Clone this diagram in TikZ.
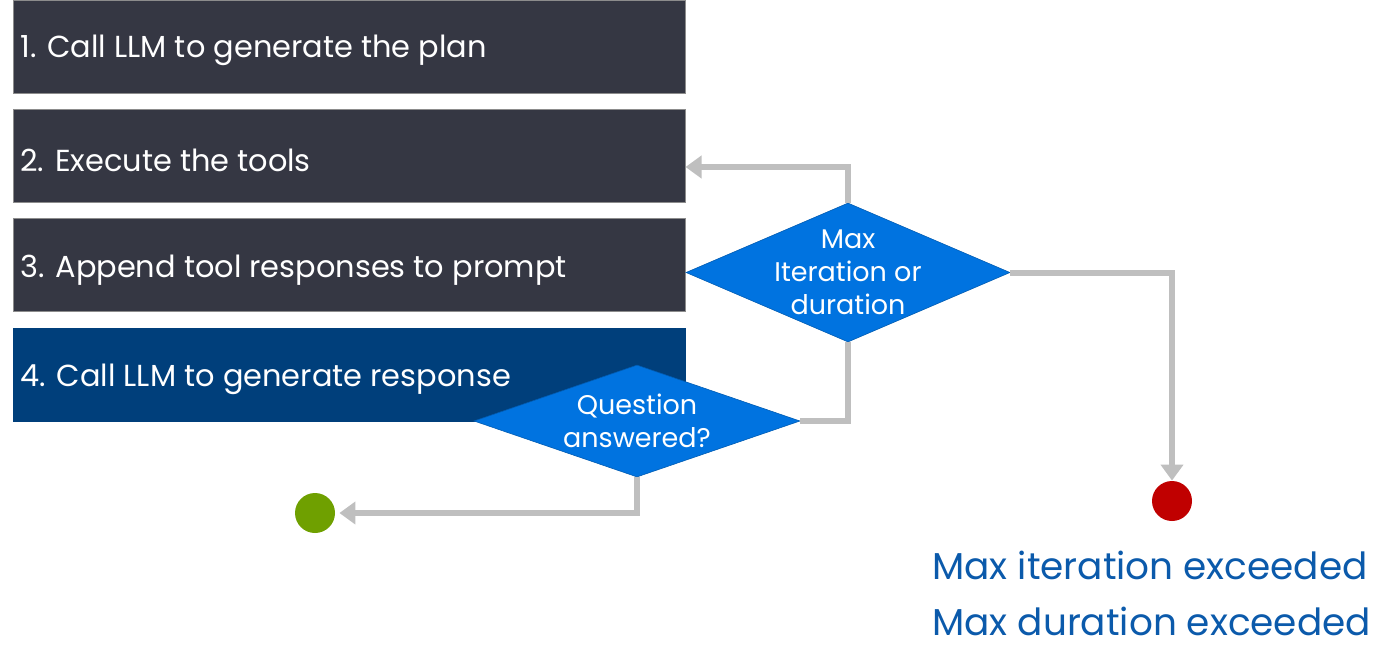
\documentclass[tikz,border=0pt]{standalone}
\usepackage{fontspec}
\setmainfont{Poppins}
\usetikzlibrary{shapes.geometric, arrows.meta}

\definecolor{stepgray}{HTML}{353743}
\definecolor{stepblue}{HTML}{003F7B}
\definecolor{checkblue}{HTML}{0073E0}
\definecolor{flowgray}{HTML}{BFBFBF}
\definecolor{stopred}{HTML}{C00000}
\definecolor{donegreen}{HTML}{6FA000}
\definecolor{notetext}{HTML}{0B5AAB}

\tikzset{
  stepbox/.style={draw=black!45, line width=0.5pt, fill=stepgray, minimum width=336pt, minimum height=46.5pt, inner sep=0pt},
  steptext/.style={text=white, font=\fontsize{15.2}{18}\selectfont, anchor=west, inner sep=0pt},
  check/.style={diamond, fill=checkblue, draw=checkblue!80!black, line width=0.3pt, inner sep=0pt},
  checktext/.style={text=white, font=\fontsize{13.5}{16.5}\selectfont, align=center, inner sep=0pt},
  flow/.style={draw=flowgray, line width=3pt},
  flowarrow/.style={flow, -{Triangle[length=8pt,width=11pt]}},
  endpoint/.style={circle, minimum size=20pt, inner sep=0pt},
  note/.style={text=notetext, font=\fontsize{18.7}{22}\selectfont, anchor=west, inner sep=0pt}
}

\begin{document}
\begin{tikzpicture}[x=0.5pt,y=-0.5pt]
\useasboundingbox (0,0) rectangle (1395,665);
% steps
\node[stepbox] (plan) at (349,46.5) {};
\node[stepbox] (tools) at (349,156) {};
\node[stepbox] (append) at (349,265) {};
\node[stepbox, fill=stepblue, draw=stepblue] (answer) at (349,374.5) {};
\node[steptext] (plantext) at (20,50) {1. Call LLM to generate the plan};
\node[steptext] (toolstext) at (20,160) {2. Execute the tools};
\node[steptext] (appendtext) at (20,270) {3. Append tool responses to prompt};
\node[steptext] (answertext) at (20,379) {4. Call LLM to generate response};
% checks
\node[check, minimum width=162pt, minimum height=69.5pt] (limit) at (848,272.5) {};
\node[checktext] (limittext) at (limit) {Max\\Iteration or\\duration};
\node[check, minimum width=163pt, minimum height=56pt] (done) at (637,421) {};
\node[checktext] (donetext) at (done) {Question\\answered?};
% end points
\node[endpoint, fill=donegreen] (finish) at (315,513) {};
\node[endpoint, fill=stopred] (stop) at (1172,501) {};
\node[note] (note1) at (932,565) {Max iteration exceeded};
\node[note] (note2) at (932,621) {Max duration exceeded};
% connectors
\draw[flowarrow] (limit.north) -- (limit.north |- 0,167) -- (tools.east |- 0,167);
\draw[flow] (limit.south) |- (done.east);
\draw[flowarrow] (limit.east) -| (stop.north);
\draw[flowarrow, shorten >=2pt] (done.south) |- (finish.east);
\end{tikzpicture}
\end{document}
